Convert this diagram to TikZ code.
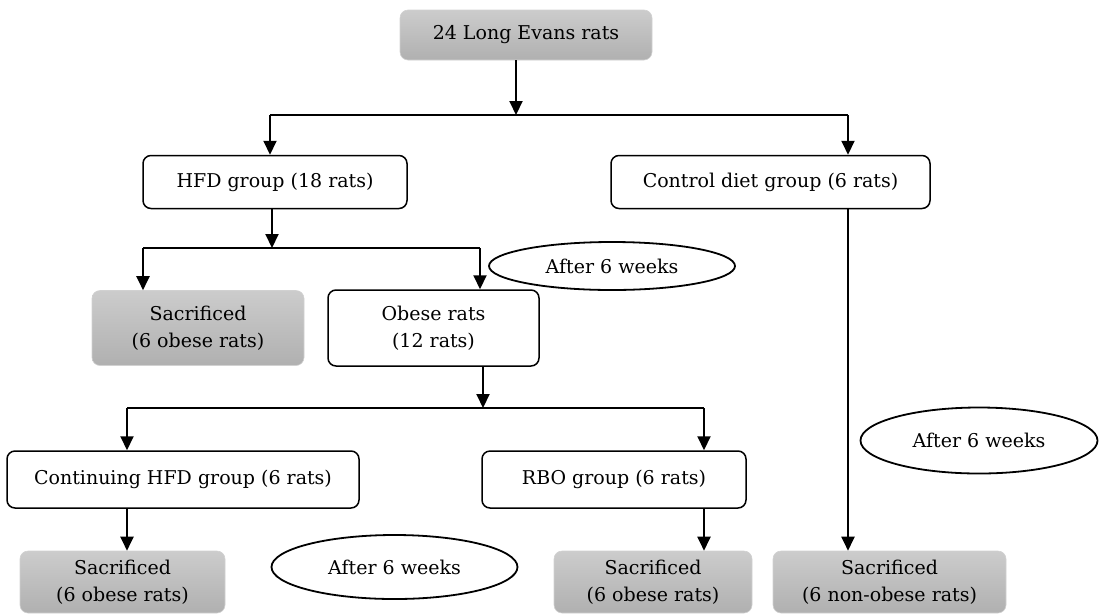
\documentclass[tikz,border=0pt]{standalone}
\usepackage{fontspec}
\setmainfont{DejaVu Serif}
\usetikzlibrary{arrows.meta,shapes.geometric}
\tikzset{
  x=1pt,y=-1pt,
  base/.style={rounded corners=8pt,align=center,inner sep=0pt,font=\fontsize{19}{27}\selectfont},
  whitebox/.style={base,draw=black,line width=1.5pt,fill=white},
  graybox/.style={base,top color=black!20,bottom color=black!31,draw=black!18,line width=0.6pt},
  oval/.style={ellipse,draw=black,line width=1.8pt,inner sep=0pt,font=\fontsize{19}{27}\selectfont},
  arr/.style={line width=2pt,-{Triangle[width=13pt,length=14pt]}},
  hline/.style={line width=1.3pt}
}
\begin{document}
\begin{tikzpicture}
\useasboundingbox (0,0) rectangle (1099,614);
% boxes
\node[graybox,minimum width=252pt,minimum height=50pt] (top) at (526,35) {24 Long Evans rats};
\node[whitebox,minimum width=264pt,minimum height=53pt] (hfd) at (275,182) {HFD group (18 rats)};
\node[whitebox,minimum width=319pt,minimum height=53pt] (ctrl) at (770.5,182) {Control diet group (6 rats)};
\node[graybox,minimum width=212pt,minimum height=75pt] (sac1) at (198,328) {Sacrificed\\(6 obese rats)};
\node[whitebox,minimum width=211pt,minimum height=76pt] (obese) at (433.5,328) {Obese rats\\(12 rats)};
\node[whitebox,minimum width=352pt,minimum height=57pt] (cont) at (183,479.5) {Continuing HFD group (6 rats)};
\node[whitebox,minimum width=264pt,minimum height=57pt] (rbo) at (614,479.5) {RBO group (6 rats)};
\node[graybox,minimum width=205pt,minimum height=62pt] (sac2) at (122.5,582) {Sacrificed\\(6 obese rats)};
\node[graybox,minimum width=198pt,minimum height=62pt] (sac3) at (653,582) {Sacrificed\\(6 obese rats)};
\node[graybox,minimum width=233pt,minimum height=62pt] (sac4) at (889.5,582) {Sacrificed\\(6 non-obese rats)};
% ellipses
\node[oval,minimum width=246pt,minimum height=48pt] (e1) at (612,266) {After 6 weeks};
\node[oval,minimum width=246pt,minimum height=64pt] (e2) at (394.5,567) {After 6 weeks};
\node[oval,minimum width=237pt,minimum height=66pt] (e3) at (979,440.5) {After 6 weeks};
% junction coordinates
\coordinate (j1) at (516,115);
\coordinate (j1l) at (270,115);
\coordinate (j1r) at (848,115);
\coordinate (j2) at (272,248);
\coordinate (j2l) at (143,248);
\coordinate (j2r) at (480,248);
\coordinate (j3) at (483,408);
\coordinate (j3l) at (127,408);
\coordinate (j3r) at (704,408);
% connectors
\draw[arr] (top.south -| j1) -- (j1);
\draw[hline] (j1l) -- (j1r);
\draw[arr] (j1l) -- (j1l |- hfd.north);
\draw[arr] (j1r) -- (j1r |- ctrl.north);
\draw[arr] (hfd.south -| j2) -- (j2);
\draw[hline] (j2l) -- (j2r);
\draw[arr] (j2l) -- (j2l |- sac1.north);
\draw[arr] (j2r) -- (j2r |- obese.north);
\draw[arr] (obese.south -| j3) -- (j3);
\draw[hline] (j3l) -- (j3r);
\draw[arr] (j3l) -- (j3l |- cont.north);
\draw[arr] (j3r) -- (j3r |- rbo.north);
\draw[arr] (cont.south -| j3l) -- (j3l |- sac2.north);
\draw[arr] (rbo.south -| j3r) -- (j3r |- sac3.north);
\draw[arr] (ctrl.south -| j1r) -- (j1r |- sac4.north);
\end{tikzpicture}
\end{document}
